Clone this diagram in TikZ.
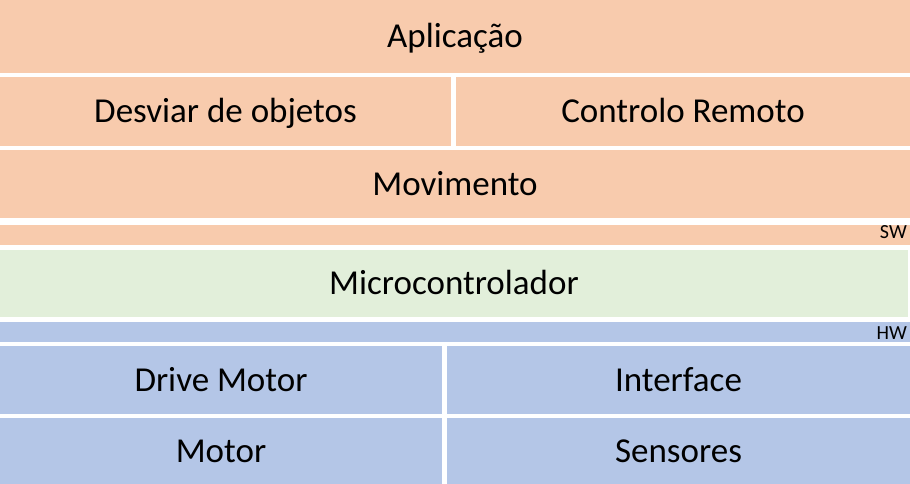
\documentclass[tikz,border=0pt]{standalone}
\usepackage{fontspec}
\setmainfont{Carlito}
\definecolor{swfill}{HTML}{F8CBAD}
\definecolor{mcfill}{HTML}{E2EFDA}
\definecolor{hwfill}{HTML}{B4C6E7}
\tikzset{
  layer/.style={draw=none, inner sep=0pt, outer sep=0pt, anchor=north west,
    font=\fontsize{35}{42}\selectfont, text=black, text height=25pt, text depth=2.5pt},
  strip/.style={draw=none, inner sep=0pt, outer sep=0pt, anchor=north west,
    minimum height=20pt, text height=0pt, text depth=0pt},
  tag/.style={inner sep=0pt, anchor=base east, font=\fontsize{20}{24}\selectfont, text=black}
}
\begin{document}
\begin{tikzpicture}[x=1pt,y=-1pt]
\useasboundingbox[fill=white] (0,0) rectangle (910,484);
% software
\node[layer, fill=swfill, minimum width=910pt, minimum height=73pt] (app) at (0,0) {Aplicação};
\node[layer, fill=swfill, minimum width=451pt, minimum height=69pt] (desv) at (0,77) {Desviar de objetos};
\node[layer, fill=swfill, minimum width=454pt, minimum height=69pt] (ctrl) at (456,77) {Controlo Remoto};
\node[layer, fill=swfill, minimum width=910pt, minimum height=68pt] (mov) at (0,150) {Movimento};
\node[strip, fill=swfill, minimum width=910pt] (sw) at (0,225) {};
\node[tag] (swlabel) at (907,238) {SW};
% microcontroller
\node[layer, fill=mcfill, minimum width=908pt, minimum height=67pt] (mcu) at (0,250) {Microcontrolador};
% hardware
\node[strip, fill=hwfill, minimum width=910pt] (hw) at (0,322) {};
\node[tag] (hwlabel) at (907,339) {HW};
\node[layer, fill=hwfill, minimum width=442pt, minimum height=68pt] (drv) at (0,346) {Drive Motor};
\node[layer, fill=hwfill, minimum width=463pt, minimum height=68pt] (intf) at (447,346) {Interface};
\node[layer, fill=hwfill, minimum width=442pt, minimum height=66pt] (mot) at (0,418) {Motor};
\node[layer, fill=hwfill, minimum width=463pt, minimum height=66pt] (sens) at (447,418) {Sensores};
\end{tikzpicture}
\end{document}
